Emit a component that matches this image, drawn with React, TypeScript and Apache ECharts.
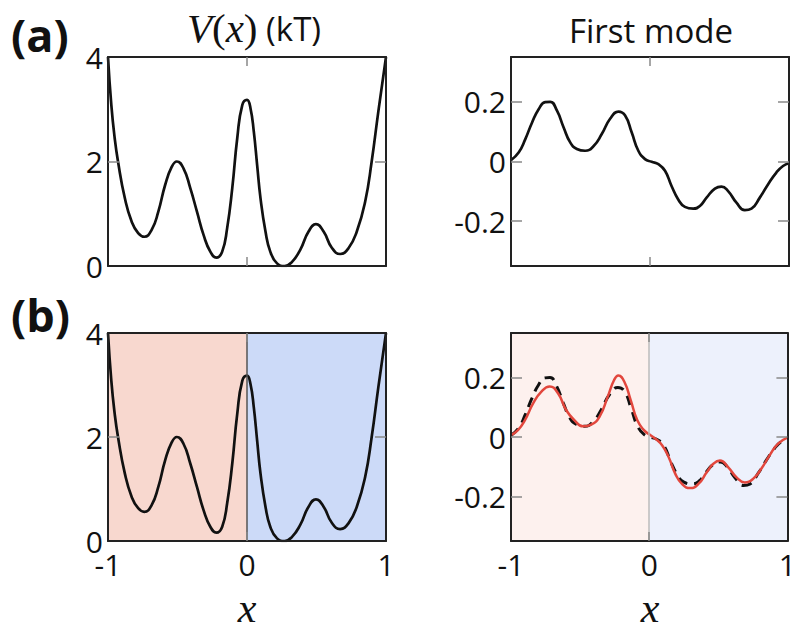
import React, { useEffect, useRef } from "react";
import * as echarts from "echarts";

// Potential V(x) in kT
const vX = [-1, -0.976, -0.952, -0.928, -0.879, -0.83, -0.783, -0.739, -0.686, -0.638, -0.589, -0.541, -0.505, -0.457, -0.408, -0.36, -0.312, -0.263, -0.22, -0.179, -0.143, -0.106, -0.07, -0.034, 0, 0.025, 0.049, 0.073, 0.097, 0.133, 0.168, 0.216, 0.271, 0.324, 0.383, 0.443, 0.496, 0.551, 0.61, 0.67, 0.73, 0.79, 0.85, 0.897, 0.945, 1];
const vY = [4, 3.08, 2.45, 2.0, 1.3, 0.85, 0.63, 0.56, 0.69, 1.04, 1.55, 1.9, 2.0, 1.87, 1.49, 1.04, 0.59, 0.27, 0.16, 0.27, 0.72, 1.49, 2.45, 3.08, 3.18, 3.02, 2.57, 1.93, 1.3, 0.66, 0.27, 0.05, 0.0, 0.08, 0.31, 0.66, 0.8, 0.66, 0.35, 0.23, 0.34, 0.66, 1.23, 2.0, 2.96, 4.0];

// First mode (exact)
const modeX = [-1, -0.945, -0.897, -0.849, -0.8, -0.754, -0.718, -0.67, -0.622, -0.574, -0.526, -0.467, -0.407, -0.347, -0.287, -0.227, -0.179, -0.132, -0.084, -0.036, 0.012, 0.06, 0.108, 0.155, 0.203, 0.251, 0.311, 0.359, 0.407, 0.467, 0.514, 0.562, 0.622, 0.682, 0.73, 0.79, 0.85, 0.909, 0.957, 1];
const modeY = [0.005, 0.03, 0.075, 0.13, 0.176, 0.199, 0.2, 0.171, 0.115, 0.064, 0.042, 0.036, 0.051, 0.092, 0.143, 0.167, 0.154, 0.098, 0.036, 0.008, -0.001, -0.009, -0.031, -0.082, -0.127, -0.152, -0.158, -0.149, -0.121, -0.091, -0.084, -0.099, -0.138, -0.163, -0.158, -0.121, -0.076, -0.037, -0.015, -0.006];

// First mode (approximation, red)
const approxX = [-1, -0.95, -0.9, -0.84, -0.78, -0.72, -0.66, -0.6, -0.54, -0.48, -0.42, -0.36, -0.3, -0.254, -0.223, -0.18, -0.134, -0.086, -0.038, 0, 0.045, 0.093, 0.141, 0.189, 0.237, 0.297, 0.356, 0.416, 0.464, 0.512, 0.572, 0.632, 0.691, 0.751, 0.811, 0.871, 0.931, 1];
const approxY = [0.006, 0.023, 0.056, 0.113, 0.153, 0.17, 0.147, 0.09, 0.056, 0.036, 0.042, 0.068, 0.136, 0.192, 0.207, 0.186, 0.124, 0.056, 0.023, 0.009, -0.006, -0.028, -0.068, -0.124, -0.158, -0.172, -0.158, -0.119, -0.09, -0.079, -0.102, -0.136, -0.153, -0.141, -0.107, -0.062, -0.023, -0.002];

const xTicks = [-1, 0, 1];
const vTicks = [0, 2, 4];
const modeTicks = [-0.2, 0, 0.2];

const pairs = (xs: number[], ys: number[]) => xs.map((x, i) => [x, ys[i]]);

const FONT = '"Open Sans", "Noto Sans", sans-serif';
const SERIF = '"Liberation Serif", "DejaVu Serif", serif';

export default function App() {
  const ref = useRef<HTMLDivElement>(null);
  useEffect(() => {
    if (!ref.current) return;
    const chart = echarts.init(ref.current, undefined, { renderer: "svg" });

    const grids = [
      { left: 108, top: 57, width: 278, height: 209 },
      { left: 511, top: 57, width: 278, height: 209 },
      { left: 108, top: 333, width: 278, height: 208 },
      { left: 511, top: 333, width: 278, height: 208 },
    ];
    const border = { show: true, onZero: false, lineStyle: { color: "#222", width: 2 } };
    const tickStyle = { color: "#888", width: 1.5 };

    const xAxis: any[] = [];
    const yAxis: any[] = [];
    grids.forEach((g, gi) => {
      const showX = gi >= 2;
      xAxis.push({
        type: "value", gridIndex: gi, min: -1, max: 1, interval: 1, position: "bottom", z: 10,
        axisLine: border, splitLine: { show: false },
        axisTick: { show: true, inside: true, length: 9, lineStyle: tickStyle, customValues: [0] },
        axisLabel: { show: showX, customValues: xTicks, color: "#111", fontSize: 30, lineHeight: 22, fontFamily: FONT, margin: 12 },
      });
      xAxis.push({
        type: "value", gridIndex: gi, min: -1, max: 1, interval: 1, position: "top", z: 10,
        axisLine: border, splitLine: { show: false },
        axisTick: { show: true, inside: true, length: 9, lineStyle: tickStyle, customValues: [0] },
        axisLabel: { show: false },
      });
      const isV = gi % 2 === 0;
      const yBase = isV
        ? { min: 0, max: 4, interval: 2 }
        : { min: -0.35, max: 0.35 };
      const yT = isV ? vTicks : modeTicks;
      const yTickVals = isV ? [2] : modeTicks;
      yAxis.push({
        type: "value", gridIndex: gi, ...yBase, position: "left", z: 10,
        axisLine: border, splitLine: { show: false },
        axisTick: { show: true, inside: true, length: 11, lineStyle: tickStyle, customValues: yTickVals },
        axisLabel: { show: true, customValues: yT, color: "#111", fontSize: 30, lineHeight: 20, fontFamily: FONT, margin: 5 },
      });
      yAxis.push({
        type: "value", gridIndex: gi, ...yBase, position: "right", z: 10,
        axisLine: border, splitLine: { show: false },
        axisTick: { show: true, inside: true, length: 11, lineStyle: tickStyle, customValues: yTickVals },
        axisLabel: { show: false },
      });
    });

    const vData = pairs(vX, vY);
    const modeData = pairs(modeX, modeY);
    const approxData = pairs(approxX, approxY);

    const lineBase = { type: "line", symbol: "none", smooth: 0.5, z: 3, silent: true };

    const areaSeries = (gi: number, data: number[][], left: string, right: string, divider: string) => ({
      type: "line", xAxisIndex: gi * 2, yAxisIndex: gi * 2, data, symbol: "none", z: 1, silent: true,
      lineStyle: { opacity: 0 },
      markArea: {
        silent: true,
        data: [
          [{ xAxis: -1, itemStyle: { color: left } }, { xAxis: 0 }],
          [{ xAxis: 0, itemStyle: { color: right } }, { xAxis: 1 }],
        ],
      },
      markLine: {
        silent: true, symbol: ["none", "none"], label: { show: false },
        lineStyle: { color: divider, width: 1.5, type: "solid" },
        data: [{ xAxis: 0 }],
      },
    });

    const option: any = {
      animation: false,
      grid: grids.map((g) => ({ ...g, show: false, containLabel: false })),
      xAxis,
      yAxis,
      series: [
        { ...lineBase, xAxisIndex: 0, yAxisIndex: 0, data: vData, lineStyle: { color: "#111", width: 2.7 } },
        { ...lineBase, xAxisIndex: 2, yAxisIndex: 2, data: modeData, lineStyle: { color: "#111", width: 2.7 } },
        areaSeries(2, vData, "#f8d8cf", "#ccdaf8", "#555"),
        { ...lineBase, xAxisIndex: 4, yAxisIndex: 4, data: vData, lineStyle: { color: "#111", width: 2.7 } },
        areaSeries(3, modeData, "#fdf1ee", "#edf1fc", "#bbb"),
        { ...lineBase, xAxisIndex: 6, yAxisIndex: 6, data: modeData, lineStyle: { color: "#111", width: 3, type: [10, 7] } },
        { ...lineBase, xAxisIndex: 6, yAxisIndex: 6, data: approxData, z: 4, lineStyle: { color: "#e2473d", width: 2.5 } },
      ],
      graphic: [
        { type: "text", x: 11, y: 34, style: { text: "(a)", font: `bold 45px ${FONT}`, fill: "#111", align: "left", verticalAlign: "middle" } },
        { type: "text", x: 11, y: 314, style: { text: "(b)", font: `bold 45px ${FONT}`, fill: "#111", align: "left", verticalAlign: "middle" } },
        {
          type: "text", x: 254, y: 28,
          style: {
            text: "{i|V}{r|(}{i|x}{r|)}{s| (kT)}", align: "center", verticalAlign: "middle", fill: "#111",
            rich: {
              i: { fontFamily: SERIF, fontStyle: "italic", fontSize: 41, fill: "#111" },
              r: { fontFamily: SERIF, fontSize: 41, fill: "#111" },
              s: { fontFamily: FONT, fontSize: 33, fill: "#111" },
            },
          },
        },
        { type: "text", x: 651, y: 30, style: { text: "First mode", font: `33px ${FONT}`, fill: "#111", align: "center", verticalAlign: "middle" } },
        { type: "text", x: 247, y: 608, style: { text: "x", font: `italic 42px ${SERIF}`, lineHeight: 34, fill: "#111", align: "center", verticalAlign: "middle" } },
        { type: "text", x: 650, y: 608, style: { text: "x", font: `italic 42px ${SERIF}`, lineHeight: 34, fill: "#111", align: "center", verticalAlign: "middle" } },
      ],
    };
    chart.setOption(option);
    return () => chart.dispose();
  }, []);
  return <div ref={ref} style={{ position: "absolute", left: 0, top: 0, width: 799, height: 631, background: "#fff" }} />;
}
